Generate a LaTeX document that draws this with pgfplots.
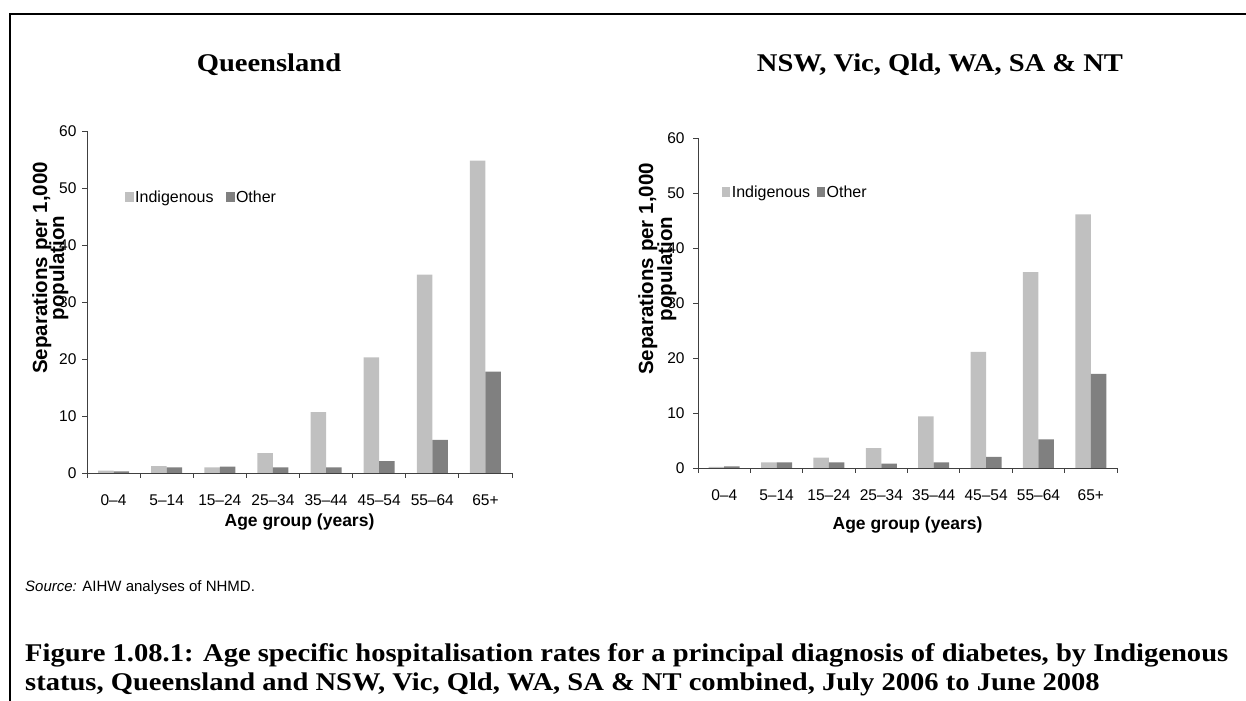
\documentclass[border=0pt]{standalone}
\usepackage{pgfplots}
\pgfplotsset{compat=1.18}
\usepackage{fontspec}
\setmainfont{Liberation Sans}
\newfontfamily\capfont[FakeStretch=1.12]{Liberation Serif}
\definecolor{indg}{HTML}{C0C0C0}
\definecolor{oth}{HTML}{808080}
\definecolor{axc}{HTML}{404040}

\pgfplotsset{
  sqleg/.style={legend image code/.code={\fill[##1] (0bp,-5bp) rectangle (8.5bp,5bp);}},
  diab/.style={
    scale only axis, anchor=south west,
    axis x line=bottom, axis y line=left,
    axis line style={-, draw=axc, line width=0.8bp},
    xmin=-0.5, xmax=7.5, ymin=0, ymax=60,
    ytick={0,10,...,60},
    xtick={-0.5,0.5,...,7.5},
    xticklabels={0–4,5–14,15–24,25–34,35–44,45–54,55–64,65+,{}},
    tick align=outside, major tick length=5bp,
    tick style={draw=axc, line width=0.8bp},
    minor tick num=0,
    tick label style={font=\fontsize{15.5bp}{18bp}\selectfont},
    /pgf/number format/assume math mode=true,
    xlabel={Age group (years)},
    xlabel style={font=\bfseries\fontsize{17.5bp}{20bp}\selectfont, at={(axis description cs:0.5,0)}, anchor=center},
    ybar=0pt, bar width=15.5bp,
    enlarge x limits=false,
    legend columns=2,
    legend style={draw=none, fill=none, anchor=west, inner sep=0pt, outer sep=0pt,
      font=\fontsize{16bp}{18bp}\selectfont, nodes={inner sep=1.5bp}},
    clip=false,
  }
}

\begin{document}
\begin{tikzpicture}[x=1bp,y=1bp]
\useasboundingbox (0,0) rectangle (1246,701);
\draw[line width=2.2bp] (10,0) -- (10,687) -- (1246,687);

\node[anchor=base, font=\capfont\bfseries\fontsize{25.5bp}{30bp}\selectfont] at (269,629) {Queensland};
\node[anchor=base, font=\capfont\bfseries\fontsize{25.5bp}{30bp}\selectfont] at (940,629) {NSW, Vic, Qld, WA, SA \& NT};

% Left: Queensland
\begin{axis}[diab, at={(87bp,228bp)}, width=425bp, height=342bp,
  xticklabel style={xshift=26.56bp, yshift=-13bp},
  yticklabel style={xshift=-2bp},
  xlabel style={yshift=-49bp},
  legend style={at={(axis description cs:0.09,0.807)}, /tikz/every even column/.append style={column sep=11bp}}]
\addplot[fill=indg, draw=none, sqleg] coordinates {(0,0.4) (1,1.2) (2,1.0) (3,3.5) (4,10.7) (5,20.3) (6,34.8) (7,54.8)};
\addplot[fill=oth, draw=none, sqleg] coordinates {(0,0.3) (1,1.0) (2,1.1) (3,1.0) (4,1.0) (5,2.1) (6,5.8) (7,17.8)};
\legend{Indigenous, Other}
\end{axis}

% Right: NSW, Vic, Qld, WA, SA & NT
\begin{axis}[diab, at={(698bp,233bp)}, width=419bp, height=330bp,
  xticklabel style={xshift=26.19bp, yshift=-13bp},
  yticklabel style={xshift=-5bp},
  xlabel style={yshift=-57bp},
  legend style={at={(axis description cs:0.057,0.836)}, /tikz/every even column/.append style={column sep=5bp}}]
\addplot[fill=indg, draw=none, sqleg] coordinates {(0,0.2) (1,1.0) (2,1.9) (3,3.6) (4,9.4) (5,21.1) (6,35.6) (7,46.1)};
\addplot[fill=oth, draw=none, sqleg] coordinates {(0,0.3) (1,1.0) (2,1.0) (3,0.8) (4,1.0) (5,2.0) (6,5.2) (7,17.1)};
\legend{Indigenous, Other}
\end{axis}

% y-axis titles
\node[rotate=90, anchor=base, font=\bfseries\fontsize{20.5bp}{24bp}\selectfont] at (47,433) {Separations per 1,000};
\node[rotate=90, anchor=base, font=\bfseries\fontsize{20.5bp}{24bp}\selectfont] at (64,433) {population};
\node[rotate=90, anchor=base, font=\bfseries\fontsize{20.5bp}{24bp}\selectfont] at (653,432) {Separations per 1,000};
\node[rotate=90, anchor=base, font=\bfseries\fontsize{20.5bp}{24bp}\selectfont] at (672,432) {population};

\node[anchor=base west, inner sep=0pt, font=\fontsize{15bp}{17bp}\selectfont] at (25,109) {\textit{Source:} AIHW analyses of NHMD.};
\node[anchor=base west, inner sep=0pt, font=\capfont\bfseries\fontsize{25.5bp}{30bp}\selectfont] at (25,39) {Figure 1.08.1: Age specific hospitalisation rates for a principal diagnosis of diabetes, by Indigenous};
\node[anchor=base west, inner sep=0pt, font=\capfont\bfseries\fontsize{25.5bp}{30bp}\selectfont] at (25,10) {status, Queensland and NSW, Vic, Qld, WA, SA \& NT combined, July 2006 to June 2008};
\end{tikzpicture}
\end{document}
